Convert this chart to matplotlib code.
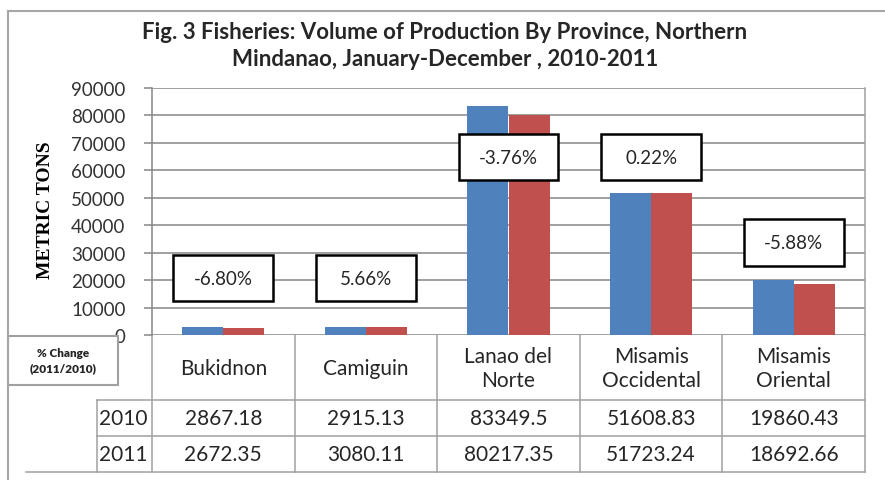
import matplotlib
matplotlib.use("Agg")
import matplotlib.pyplot as plt
from matplotlib.lines import Line2D
from matplotlib.patches import Rectangle
from matplotlib.transforms import blended_transform_factory

# ---- data ----
provinces = ["Bukidnon", "Camiguin", "Lanao del\nNorte", "Misamis\nOccidental", "Misamis\nOriental"]
years = ["2010", "2011"]
vol_2010 = [2867.18, 2915.13, 83349.5, 51608.83, 19860.43]
vol_2011 = [2672.35, 3080.11, 80217.35, 51723.24, 18692.66]
vol_2010_txt = ["2867.18", "2915.13", "83349.5", "51608.83", "19860.43"]
vol_2011_txt = ["2672.35", "3080.11", "80217.35", "51723.24", "18692.66"]
pct_change = ["-6.80%", "5.66%", "-3.76%", "0.22%", "-5.88%"]
yticks = [0, 10000, 20000, 30000, 40000, 50000, 60000, 70000, 80000, 90000]

# ---- style ----
BLUE = "#4F81BD"
RED = "#C0504D"
GRID = "#868686"
TLINE = "#A0A0A0"
TXT = "#262626"
FONT = "Lato"
label_y = [20700, 20700, 64800, 64800, 33700]   # positions of % boxes

W, H = 885, 481
fig = plt.figure(figsize=(W / 100, H / 100), dpi=100)
fig.patch.set_facecolor("white")

L, R, T, B = 152, 865, 89, 336
ax = fig.add_axes([L / W, 1 - B / H, (R - L) / W, (B - T) / H])
n = len(provinces)
ax.set_xlim(-0.5, n - 0.5)
ax.set_ylim(0, 90000)

bw = 0.288
xs = list(range(n))
ax.bar([x - bw / 2 for x in xs], vol_2010, width=bw, color=BLUE, zorder=3)
ax.bar([x + bw / 2 for x in xs], vol_2011, width=bw, color=RED, zorder=3)

ax.set_yticks(yticks)
ax.set_yticklabels([str(v) for v in yticks], fontsize=13.5, family=FONT, color="#333333")
ax.yaxis.grid(True, color=GRID, lw=1.1, zorder=0)
ax.tick_params(axis="y", length=6, width=1.1, color=GRID, pad=13)
ax.set_xticks([])
for s in ["top", "bottom"]:
    ax.spines[s].set_visible(False)
ax.spines["left"].set_color(GRID)
ax.spines["right"].set_color(TLINE)
ax.spines["left"].set_linewidth(1.1)
ax.spines["right"].set_linewidth(1.1)

# percentage boxes
bx_w, bx_h = 0.70, 16800
for x, y, t in zip(xs, label_y, pct_change):
    ax.add_patch(Rectangle((x - bx_w / 2, y - bx_h / 2), bx_w, bx_h, facecolor="white",
                           edgecolor="black", lw=1.8, zorder=5))
    ax.text(x, y, t, ha="center", va="center", fontsize=13.5, family=FONT, color=TXT, zorder=6)

# ---- data table ----
tr = blended_transform_factory(ax.transData, ax.transAxes)
def ypx(p):
    return (B - p) / (B - T)
def xpx(p):
    return (p - L) / (R - L)

r1, r2, r3 = ypx(401), ypx(437), ypx(473)
kw = dict(color=TLINE, lw=1.1, clip_on=False)
for i in range(n + 1):
    ax.plot([i - 0.5, i - 0.5], [0, r3], transform=tr, **kw)
ax.plot([xpx(97), 1], [r1, r1], transform=ax.transAxes, **kw)
ax.plot([xpx(97), 1], [r2, r2], transform=ax.transAxes, **kw)
ax.plot([xpx(26), 1], [r3, r3], transform=ax.transAxes, **kw)
ax.plot([xpx(97), xpx(97)], [r1, r3], transform=ax.transAxes, **kw)

TS = 15
for x, name in zip(xs, provinces):
    ax.text(x, ypx(369), name, transform=tr, ha="center", va="center", fontsize=TS,
            family=FONT, color=TXT, linespacing=1.25)
for x, a, b in zip(xs, vol_2010_txt, vol_2011_txt):
    ax.text(x, ypx(419), a, transform=tr, ha="center", va="center", fontsize=TS,
            family=FONT, color=TXT)
    ax.text(x, ypx(455), b, transform=tr, ha="center", va="center", fontsize=TS,
            family=FONT, color=TXT)
ax.text(xpx(99), ypx(419), years[0], transform=ax.transAxes, ha="left", va="center",
        fontsize=TS, family=FONT, color=TXT)
ax.text(xpx(99), ypx(455), years[1], transform=ax.transAxes, ha="left", va="center",
        fontsize=TS, family=FONT, color=TXT)

# % Change legend box
ax.add_patch(Rectangle((xpx(8), ypx(386)), xpx(118) - xpx(8), ypx(337) - ypx(386),
                       transform=ax.transAxes, facecolor="white", edgecolor=TLINE,
                       lw=1.5, clip_on=False, zorder=4))
ax.text((xpx(8) + xpx(118)) / 2, ypx(361), "% Change\n(2011/2010)", transform=ax.transAxes,
        ha="center", va="center", fontsize=8.5, fontweight="heavy", family=FONT, color=TXT,
        linespacing=1.4, zorder=5)

# title & axis label
fig.text(445 / W, 1 - 33 / H, "Fig. 3 Fisheries: Volume of Production By Province, Northern",
         ha="center", va="center", fontsize=16, fontweight="bold", family=FONT, color=TXT)
fig.text(445 / W, 1 - 60 / H, "Mindanao, January-December , 2010-2011",
         ha="center", va="center", fontsize=16, fontweight="bold", family=FONT, color=TXT)
fig.text(45 / W, 1 - 210 / H, "METRIC TONS", rotation=90, ha="center", va="center",
         fontsize=14, fontweight="bold", family="Liberation Serif", color="black")

# outer chart border (left & top)
fig.add_artist(Line2D([8 / W, 8 / W], [0, 1 - 12 / H], transform=fig.transFigure,
                      color="#A6A6A6", lw=1.5))
fig.add_artist(Line2D([8 / W, 1], [1 - 12 / H, 1 - 12 / H], transform=fig.transFigure,
                      color="#A6A6A6", lw=1.5))

fig.savefig("out.png", dpi=100, facecolor="white")
